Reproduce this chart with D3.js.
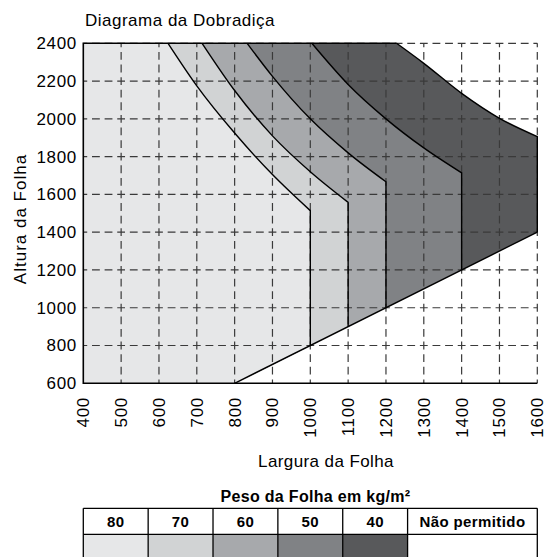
<!DOCTYPE html>
<html>
<head>
<meta charset="utf-8">
<script src="https://cdn.jsdelivr.net/npm/d3@7"></script>
<style>
  html, body { margin: 0; padding: 0; background: #fff; }
  svg { display: block; font-family: "Liberation Sans", Arial, sans-serif; }
</style>
</head>
<body>
<svg id="chart" width="547" height="557"></svg>
<script>
// Door-leaf weight classes (kg/m²) and their fill tones
const weights = [80, 70, 60, 50, 40];
const weightColors = ["#e6e7e8", "#d1d3d4", "#a7a9ac", "#808285", "#58595b"];

// Upper boundary of each weight class: leaf width (mm) vs leaf height (mm)
const curve80W = [624, 700, 800, 900, 1000];
const curve80H = [2400, 2175, 1925, 1705, 1514];
const curve70W = [714, 800, 900, 1000, 1100];
const curve70H = [2400, 2150, 1910, 1720, 1558];
const curve60W = [833, 900, 1000, 1100, 1200];
const curve60H = [2400, 2225, 2000, 1820, 1667];
const curve50W = [1004, 1100, 1200, 1300, 1400];
const curve50H = [2400, 2182, 2000, 1846, 1714];
const curve40W = [1228, 1300, 1400, 1500, 1600];
const curve40H = [2400, 2294, 2135, 2003, 1906];

// Height where each class's vertical cut-off meets the minimum-height line
const dropBottomH = [800, 900, 1000, 1200, 1400];

// Minimum-height line (below it: not permitted)
const limitW = [800, 1600];
const limitH = [600, 1400];

// Axis ticks
const widthTicks = [400, 500, 600, 700, 800, 900, 1000, 1100, 1200, 1300, 1400, 1500, 1600];
const heightTicks = [600, 800, 1000, 1200, 1400, 1600, 1800, 2000, 2200, 2400];

// Legend
const legendLabels = ["80", "70", "60", "50", "40", "Não permitido"];
const legendSpans = [1, 1, 1, 1, 1, 2];

const curvesW = [curve80W, curve70W, curve60W, curve50W, curve40W];
const curvesH = [curve80H, curve70H, curve60H, curve50H, curve40H];

const svg = d3.select("#chart");
const plotLeft = 83.3, plotRight = 537.3, plotTop = 43.3, plotBottom = 383.3;

const x = d3.scaleLinear().domain([400, 1600]).range([plotLeft, plotRight]);
const y = d3.scaleLinear().domain([600, 2400]).range([plotBottom, plotTop]);

const curveLine = d3.line().x(d => x(d[0])).y(d => y(d[1])).curve(d3.curveMonotoneX);

function boundaryPoints(i) {
  return curvesW[i].map((w, j) => [w, curvesH[i][j]]);
}

// Filled regions, drawn heaviest-limit last so lighter classes sit on top
const regions = svg.append("g");
for (let i = weights.length - 1; i >= 0; i--) {
  const pts = boundaryPoints(i);
  const endW = pts[pts.length - 1][0];
  const curvePath = curveLine(pts).replace(/^M/, "L");
  const d = `M${x(400)},${y(600)}L${x(400)},${y(2400)}` + curvePath +
            `L${x(endW)},${y(dropBottomH[i])}L${x(limitW[0])},${y(limitH[0])}Z`;
  regions.append("path").attr("d", d).attr("fill", weightColors[i]).attr("stroke", "none");
}

// Dashed grid
const grid = svg.append("g").attr("stroke", "#3a3a3a").attr("stroke-width", 1.2).attr("fill", "none");
const cellH = y(600) - y(800);
const cellW = x(500) - x(400);
const dashV = [cellH / 3 * 0.62, cellH / 3 * 0.38];
const dashH = [cellW / 3 * 0.62, cellW / 3 * 0.38];
widthTicks.slice(1).forEach(w => {
  grid.append("line")
    .attr("x1", x(w)).attr("x2", x(w)).attr("y1", y(600)).attr("y2", y(2400))
    .attr("stroke-dasharray", dashV.join(" "))
    .attr("stroke-dashoffset", dashV[0] / 2);
});
heightTicks.slice(1).forEach(h => {
  grid.append("line")
    .attr("x1", x(400)).attr("x2", x(1600)).attr("y1", y(h)).attr("y2", y(h))
    .attr("stroke-dasharray", dashH.join(" "))
    .attr("stroke-dashoffset", dashH[0] / 2);
});

// Class boundaries with their vertical cut-offs
const outlines = svg.append("g").attr("stroke", "#000").attr("stroke-width", 1.4).attr("fill", "none");
weights.forEach((wt, i) => {
  const pts = boundaryPoints(i);
  const endW = pts[pts.length - 1][0];
  outlines.append("path")
    .attr("d", curveLine(pts) + `L${x(endW)},${y(dropBottomH[i])}`);
});
outlines.append("line")
  .attr("x1", x(limitW[0])).attr("y1", y(limitH[0]))
  .attr("x2", x(limitW[1])).attr("y2", y(limitH[1]));

// Frame: left and bottom axes, top edge of the permitted area
outlines.append("path")
  .attr("d", `M${x(curve40W[0])},${y(2400)}L${x(400)},${y(2400)}L${x(400)},${y(600)}L${x(1600)},${y(600)}`)
  .attr("stroke-width", 1.6);

// Tick labels
const labelFont = 17;
svg.append("g").selectAll("text").data(heightTicks).join("text")
  .attr("x", 77).attr("y", d => y(d)).attr("dy", "0.35em")
  .attr("text-anchor", "end").attr("font-size", labelFont)
  .attr("letter-spacing", 0.7)
  .text(d => d);

svg.append("g").selectAll("text").data(widthTicks).join("text")
  .attr("transform", d => `translate(${x(d)},397) rotate(-90)`)
  .attr("dy", "0.35em")
  .attr("text-anchor", "end").attr("font-size", labelFont)
  .attr("letter-spacing", 0.7)
  .text(d => d);

// Titles
svg.append("text").attr("x", 85).attr("y", 26).attr("font-size", 17)
  .attr("letter-spacing", 0.5).text("Diagrama da Dobradiça");

svg.append("text")
  .attr("transform", `translate(25.5,219) rotate(-90)`)
  .attr("text-anchor", "middle").attr("font-size", 17).attr("letter-spacing", 1)
  .text("Altura da Folha");

svg.append("text").attr("x", 326).attr("y", 467)
  .attr("text-anchor", "middle").attr("font-size", 17).attr("letter-spacing", 0.4)
  .text("Largura da Folha");

// Legend table
const legend = svg.append("g");
legend.append("text").attr("x", 315.5).attr("y", 502)
  .attr("text-anchor", "middle").attr("font-size", 16).attr("font-weight", "bold")
  .attr("letter-spacing", 0.3)
  .text("Peso da Folha em kg/m²");

const unit = (plotRight - plotLeft) / d3.sum(legendSpans);
const tableTop = 508.3, rowH = 26, tableBottom = 560;
let cx = plotLeft;
legendLabels.forEach((lab, i) => {
  const w = legendSpans[i] * unit;
  legend.append("rect")
    .attr("x", cx).attr("y", tableTop + rowH).attr("width", w).attr("height", tableBottom - tableTop - rowH)
    .attr("fill", i < weightColors.length ? weightColors[i] : "#fff");
  legend.append("text")
    .attr("x", cx + w / 2).attr("y", tableTop + 18.5)
    .attr("text-anchor", "middle").attr("font-size", 15).attr("font-weight", "bold")
    .attr("letter-spacing", 0.4)
    .text(lab);
  cx += w;
});
const tableLines = legend.append("g").attr("stroke", "#000").attr("stroke-width", 1.3);
tableLines.append("line").attr("x1", plotLeft).attr("x2", plotRight).attr("y1", tableTop).attr("y2", tableTop);
tableLines.append("line").attr("x1", plotLeft).attr("x2", plotRight).attr("y1", tableTop + rowH).attr("y2", tableTop + rowH);
let bx = plotLeft;
tableLines.append("line").attr("x1", bx).attr("x2", bx).attr("y1", tableTop).attr("y2", tableBottom);
legendSpans.forEach(s => {
  bx += s * unit;
  tableLines.append("line").attr("x1", bx).attr("x2", bx).attr("y1", tableTop).attr("y2", tableBottom);
});
</script>
</body>
</html>
